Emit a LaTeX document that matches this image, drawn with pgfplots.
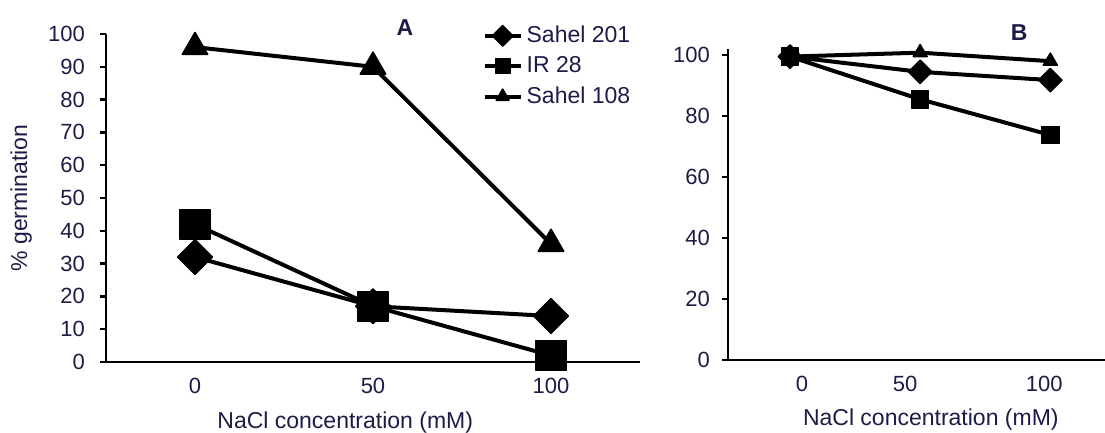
\documentclass[border=0pt]{standalone}
\usepackage{pgfplots}
\pgfplotsset{compat=1.18}
\usepackage{fontspec}
\setmainfont{Liberation Sans}
\definecolor{txt}{HTML}{1C1C48}
\pgfplotsset{
  panel/.style={
    scale only axis, clip=false,
    axis lines=left, axis line style={line width=1.3pt,-},
    tick align=outside, major tick length=3pt,
    ytick style={black,line width=1.2pt},
    xtick style={draw=none},
    ymin=0,
    tick label style={font=\fontsize{11}{13}\selectfont, text=txt},
    x tick label style={yshift=-1.5pt},
    /pgf/number format/assume math mode=true,
    label style={font=\fontsize{11.5}{14}\selectfont, text=txt},
    every axis plot/.append style={line width=2pt, black, line join=round},
  },
  dia/.style={mark=square*, mark options={solid,fill=black,rotate=45,line width=0.6pt}},
  sq/.style={mark=square*, mark options={solid,fill=black,line width=0.6pt}},
  tri/.style={mark=triangle*, mark options={solid,fill=black,line width=0.8pt,line join=round}},
}
\begin{document}
\begin{tikzpicture}
\useasboundingbox (0,0) rectangle (552.5pt,216.5pt);

% panel A
\begin{axis}[panel,
  at={(53pt,35.5pt)}, anchor=south west,
  width=267pt, height=164pt,
  xmin=-25, xmax=125, ymax=100,
  xtick={0,50,100}, ytick={0,10,...,100},
  y tick label style={xshift=-4pt},
  ylabel={\% germination},
  y label style={at={(axis description cs:-0.159,0.5)}, anchor=center},
  xlabel={NaCl concentration (mM)},
  x label style={at={(axis description cs:0.448,-0.184)}, anchor=center},
  legend style={at={(axis cs:79,105)}, anchor=north west, draw=none, fill=none,
    font=\fontsize{11.5}{14}\selectfont, text=txt, row sep=1.5pt,
    legend cell align=left},
  legend image code/.code={\draw[mark repeat=2,mark phase=2,#1] plot coordinates {(0pt,0pt) (9pt,0pt) (18pt,0pt)};},
  legend image post style={mark size=3.7pt},
]
\addplot[dia, mark size=6.2pt] coordinates {(0,32) (50,17) (100,14)};
\addlegendentry{Sahel 201}
\addplot[sq, mark size=7.5pt] coordinates {(0,42) (50,17) (100,2)};
\addlegendentry{IR 28}
\addplot[tri, mark size=7.3pt] coordinates {(0,96) (50,90) (100,36)};
\addlegendentry{Sahel 108}
\node[font=\bfseries\fontsize{11.5}{14}\selectfont, text=txt] at (axis cs:59,102.1) {A};
\end{axis}

% panel B
\begin{axis}[panel,
  at={(364pt,36.5pt)}, anchor=south west,
  width=188.5pt, height=155.5pt,
  xmin=-23.8, xmax=121, ymax=102,
  xtick={4.6,44.2,97.7}, xticklabels={0,50,100},
  ytick={0,20,...,100},
  y tick label style={xshift=-2.5pt},
  xlabel={NaCl concentration (mM)},
  x label style={at={(axis description cs:0.538,-0.19)}, anchor=center},
]
\addplot[dia, mark size=4.2pt] coordinates {(0,99.5) (50,94.5) (100,91.8)};
\addplot[sq, mark size=4.3pt] coordinates {(0,99.5) (50,85.5) (100,73.8)};
\addplot[tri, mark size=4pt] coordinates {(0,99.5) (50,100.8) (100,98)};
\node[font=\bfseries\fontsize{11.5}{14}\selectfont, text=txt] at (axis cs:88,107.5) {B};
\end{axis}
\end{tikzpicture}
\end{document}
